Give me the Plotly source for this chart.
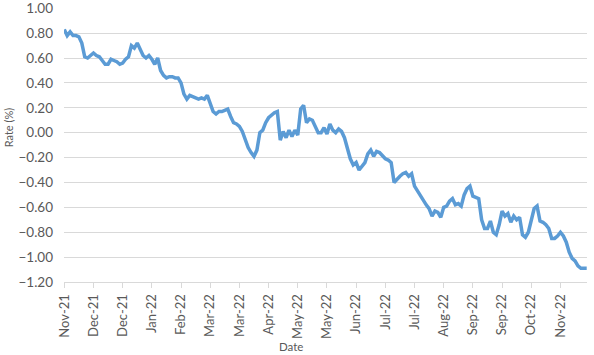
import plotly.graph_objects as go

rate = [0.83, 0.78, 0.81, 0.78, 0.78, 0.77, 0.72, 0.61, 0.60, 0.62,
        0.64, 0.62, 0.61, 0.58, 0.55, 0.55, 0.59, 0.58, 0.57, 0.55,
        0.56, 0.59, 0.61, 0.70, 0.68, 0.72, 0.67, 0.62, 0.60, 0.62,
        0.59, 0.55, 0.60, 0.50, 0.46, 0.44, 0.45, 0.45, 0.44, 0.44,
        0.40, 0.31, 0.27, 0.30, 0.29, 0.28, 0.27, 0.28, 0.27, 0.30,
        0.24, 0.17, 0.15, 0.17, 0.17, 0.18, 0.19, 0.13, 0.08, 0.07,
        0.05, 0.01, -0.05, -0.12, -0.16, -0.19, -0.14, 0.00, 0.02, 0.08,
        0.12, 0.14, 0.16, 0.17, -0.06, 0.01, -0.04, 0.02, -0.03, 0.02,
        -0.02, 0.19, 0.22, 0.08, 0.11, 0.10, 0.05, 0.00, 0.00, 0.04,
        -0.01, 0.07, 0.02, 0.00, 0.03, 0.01, -0.04, -0.12, -0.21, -0.26,
        -0.24, -0.30, -0.27, -0.24, -0.17, -0.14, -0.19, -0.15, -0.16, -0.19,
        -0.21, -0.22, -0.24, -0.40, -0.37, -0.35, -0.33, -0.32, -0.35, -0.33,
        -0.43, -0.47, -0.50, -0.55, -0.58, -0.61, -0.67, -0.63, -0.64, -0.68,
        -0.60, -0.59, -0.55, -0.53, -0.58, -0.57, -0.59, -0.50, -0.45, -0.43,
        -0.51, -0.52, -0.53, -0.70, -0.77, -0.77, -0.71, -0.80, -0.82, -0.74,
        -0.63, -0.67, -0.65, -0.72, -0.67, -0.70, -0.68, -0.82, -0.84, -0.80,
        -0.70, -0.61, -0.59, -0.71, -0.72, -0.74, -0.77, -0.85, -0.85, -0.83,
        -0.80, -0.83, -0.88, -0.96, -1.01, -1.03, -1.07, -1.09, -1.09, -1.09]

tick_labels = ["Nov-21", "Dec-21", "Dec-21", "Jan-22", "Feb-22", "Mar-22",
               "Mar-22", "Apr-22", "May-22", "May-22", "Jun-22", "Jul-22",
               "Jul-22", "Aug-22", "Sep-22", "Sep-22", "Oct-22", "Nov-22"]
tick_step = 10

y_ticks = [1.0, 0.8, 0.6, 0.4, 0.2, 0.0, -0.2, -0.4, -0.6, -0.8, -1.0, -1.2]

x = list(range(len(rate)))
tick_pos = [i * tick_step for i in range(len(tick_labels))]

font_family = "Lato, 'Open Sans', sans-serif"
gray = "#595959"

L, R, T, B = 64, 7, 7.5, 73
W, H = 594, 355

fig = go.Figure()
fig.add_trace(go.Scatter(x=x, y=rate, mode="lines",
                         line=dict(color="#5B9BD5", width=3.5),
                         showlegend=False))

fig.update_layout(
    width=W, height=H,
    margin=dict(l=L, r=R, t=T, b=B, autoexpand=False),
    plot_bgcolor="white", paper_bgcolor="white",
    font=dict(family=font_family, color=gray, size=12),
    xaxis=dict(
        range=[-0.1, len(rate) - 1 + 0.1], automargin=False,
        tickmode="array", tickvals=tick_pos, ticktext=tick_labels,
        tickangle=-90, ticks="outside", ticklen=5, tickcolor="#d9d9d9",
        showgrid=False, showline=True, linecolor="#d9d9d9", linewidth=1,
        zeroline=False, tickfont=dict(size=13, color=gray),
        ticklabelstandoff=1, ticklabeloverflow="allow",
    ),
    yaxis=dict(
        range=[-1.2, 1.002], automargin=False,
        tickmode="array", tickvals=y_ticks,
        tickformat=".2f", showgrid=True, gridcolor="#d9d9d9", gridwidth=1,
        zeroline=False, showline=False, ticks="",
        tickfont=dict(size=13.5, color=gray),
        ticklabelstandoff=10, ticklabeloverflow="allow",
    ),
)

plot_w = W - L - R
plot_h = H - T - B


def px_to_paper(px, py):
    return (px - L) / plot_w, (H - B - py) / plot_h


ax, ay = px_to_paper(8, 128)
fig.add_annotation(text="Rate (%)", x=ax, y=ay, xref="paper", yref="paper",
                   xanchor="center", yanchor="middle", showarrow=False,
                   textangle=-90, font=dict(size=11, color=gray))
ax, ay = px_to_paper(291, 347)
fig.add_annotation(text="Date", x=ax, y=ay, xref="paper", yref="paper",
                   xanchor="center", yanchor="middle", showarrow=False,
                   font=dict(size=11.5, color=gray))

fig.write_html("out.html")
